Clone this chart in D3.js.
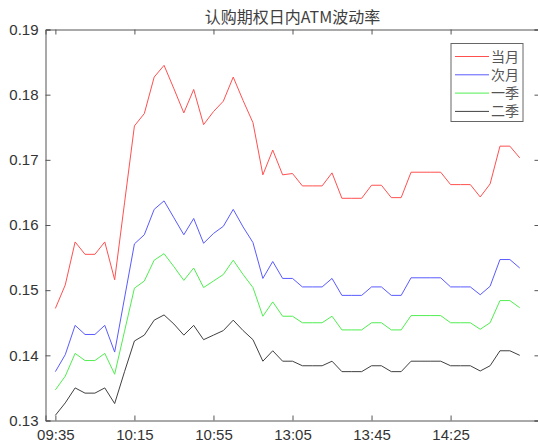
<!DOCTYPE html>
<html>
<head>
<meta charset="utf-8">
<script src="https://cdn.jsdelivr.net/npm/d3@7"></script>
<style>
  body { margin: 0; background: #fff; }
  svg { display: block; }
</style>
</head>
<body>
<div id="chart"></div>
<script>
// 数据（每5分钟一个点）
const seriesNames = ["当月", "次月", "一季", "二季"];
const tickLabels = ["09:35", "10:15", "10:55", "13:05", "13:45", "14:25"];
const tickIndex = [0, 8, 16, 24, 32, 40];

const dangYue = [0.1472, 0.1508, 0.1574, 0.1555, 0.1555, 0.1574, 0.1516, 0.1634, 0.1752, 0.1771,
  0.1827, 0.1845, 0.1809, 0.1772, 0.1808, 0.1754, 0.1774, 0.1790, 0.1827, 0.1791,
  0.1757, 0.1677, 0.1715, 0.1677, 0.1679, 0.1660, 0.1660, 0.1660, 0.1680, 0.1641,
  0.1641, 0.1641, 0.1661, 0.1661, 0.1642, 0.1642, 0.1681, 0.1681, 0.1681, 0.1681,
  0.1662, 0.1662, 0.1662, 0.1643, 0.1663, 0.1721, 0.1721, 0.1703];
const ciYue = [0.1375, 0.1401, 0.1446, 0.1432, 0.1432, 0.1446, 0.1405, 0.1488, 0.1571, 0.1585,
  0.1624, 0.1637, 0.1611, 0.1585, 0.1610, 0.1572, 0.1587, 0.1598, 0.1624, 0.1597,
  0.1573, 0.1518, 0.1544, 0.1518, 0.1518, 0.1505, 0.1505, 0.1505, 0.1518, 0.1492,
  0.1492, 0.1492, 0.1505, 0.1505, 0.1492, 0.1492, 0.1519, 0.1519, 0.1519, 0.1519,
  0.1505, 0.1505, 0.1505, 0.1493, 0.1506, 0.1547, 0.1547, 0.1534];
const yiJi = [0.1347, 0.1368, 0.1403, 0.1392, 0.1392, 0.1403, 0.1371, 0.1437, 0.1503, 0.1514,
  0.1546, 0.1556, 0.1536, 0.1515, 0.1534, 0.1504, 0.1514, 0.1524, 0.1546, 0.1524,
  0.1504, 0.1460, 0.1482, 0.1460, 0.1460, 0.1450, 0.1450, 0.1450, 0.1460, 0.1439,
  0.1439, 0.1439, 0.1450, 0.1450, 0.1439, 0.1439, 0.1461, 0.1461, 0.1461, 0.1461,
  0.1450, 0.1450, 0.1450, 0.1440, 0.1450, 0.1484, 0.1484, 0.1473];
const erJi = [0.1308, 0.1327, 0.1350, 0.1342, 0.1342, 0.1350, 0.1326, 0.1375, 0.1422, 0.1431,
  0.1454, 0.1462, 0.1448, 0.1431, 0.1446, 0.1424, 0.1431, 0.1438, 0.1454, 0.1438,
  0.1424, 0.1391, 0.1407, 0.1391, 0.1391, 0.1384, 0.1384, 0.1384, 0.1391, 0.1375,
  0.1375, 0.1375, 0.1384, 0.1384, 0.1375, 0.1375, 0.1391, 0.1391, 0.1391, 0.1391,
  0.1384, 0.1384, 0.1384, 0.1376, 0.1384, 0.1407, 0.1407, 0.1400];
const yTicks = [0.13, 0.14, 0.15, 0.16, 0.17, 0.18, 0.19];

const colors = ["#ff5050", "#5a5aff", "#50ee50", "#404040"];
const allSeries = [dangYue, ciYue, yiJi, erJi];

const W = 538, H = 446;
const axL = 45.5, axR = 539.5, axT = 29.5, axB = 420.5;
const axisColor = "#555";

const svg = d3.select("#chart").append("svg")
    .attr("width", W)
    .attr("height", H);

const x = d3.scaleLinear().domain([-1, 49]).range([axL, axR]);
const y = d3.scaleLinear().domain([0.13, 0.19]).range([axB, axT]);

// 标题
svg.append("text")
    .attr("x", (axL + axR) / 2)
    .attr("y", 23)
    .attr("text-anchor", "middle")
    .style("font-family", "'Noto Sans CJK SC', 'Liberation Sans', sans-serif")
    .style("font-size", "16px")
    .style("fill", "#404040")
    .text("认购期权日内ATM波动率");

// 折线
const line = d3.line()
    .x((d, i) => x(i))
    .y(d => y(d));

allSeries.forEach((s, k) => {
    svg.append("path")
        .datum(s)
        .attr("d", line)
        .attr("fill", "none")
        .attr("stroke", colors[k])
        .attr("stroke-width", 1);
});

// 坐标轴
const fmt = d3.format(".2f");
const axFont = "'Liberation Sans', Arial, sans-serif";

const yAxis = svg.append("g")
    .attr("transform", `translate(${axL},0)`)
    .call(d3.axisLeft(y).tickValues(yTicks).tickFormat(fmt).tickSize(-5).tickPadding(7));
const xAxis = svg.append("g")
    .attr("transform", `translate(0,${axB})`)
    .call(d3.axisBottom(x).tickValues(tickIndex).tickFormat((d, i) => tickLabels[i]).tickSize(-5).tickPadding(7));
const topAxis = svg.append("g")
    .attr("transform", `translate(0,${axT})`)
    .call(d3.axisTop(x).tickValues(tickIndex).tickFormat("").tickSize(-5));
const rightAxis = svg.append("g")
    .attr("transform", `translate(${axR},0)`)
    .call(d3.axisRight(y).tickValues(yTicks).tickFormat("").tickSize(-5));

[yAxis, xAxis, topAxis, rightAxis].forEach(g => {
    g.select(".domain").attr("stroke", axisColor).attr("stroke-width", 1);
    g.selectAll(".tick line").attr("stroke", axisColor);
    g.selectAll(".tick text")
        .style("font-family", axFont)
        .style("font-size", "15px")
        .attr("fill", "#333");
});
xAxis.selectAll(".tick text").attr("dy", "0.85em");

// 图例
const lg = svg.append("g").attr("transform", "translate(451,43.5)");
lg.append("rect")
    .attr("width", 72)
    .attr("height", 78)
    .attr("fill", "#fff")
    .attr("stroke", "#666")
    .attr("stroke-width", 1);

seriesNames.forEach((name, k) => {
    const yy = 13 + k * 18.3;
    lg.append("line")
        .attr("x1", 4).attr("x2", 38)
        .attr("y1", yy).attr("y2", yy)
        .attr("stroke", colors[k])
        .attr("stroke-width", 1);
    lg.append("text")
        .attr("x", 40)
        .attr("y", yy + 5)
        .style("font-family", "'Noto Sans CJK SC', sans-serif")
        .style("font-size", "14px")
        .style("fill", "#555")
        .text(name);
});
</script>
</body>
</html>
